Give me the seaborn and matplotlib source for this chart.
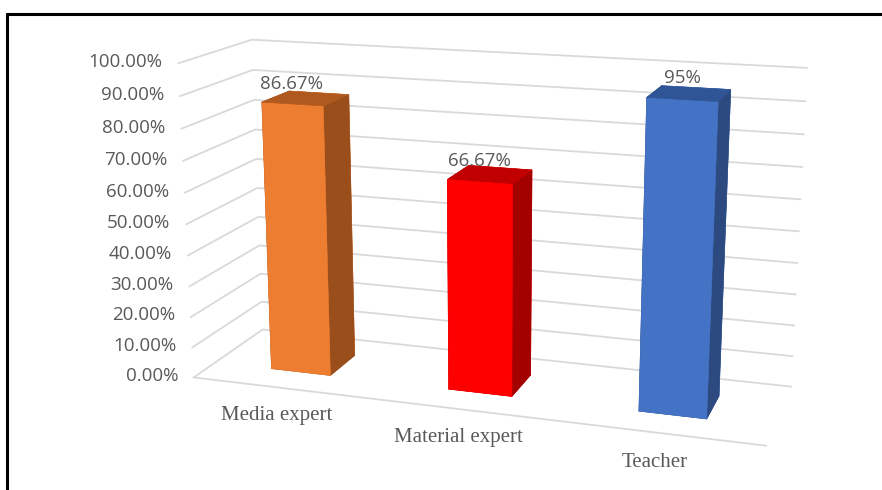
import numpy as np
import matplotlib
matplotlib.use("Agg")
import matplotlib.pyplot as plt
import seaborn as sns
from matplotlib.lines import Line2D

# ---------------- data ----------------
categories = ["Media expert", "Material expert", "Teacher"]
values = [86.67, 66.67, 95.0]
value_labels = ["86.67%", "66.67%", "95%"]
tick_values = [0, 10, 20, 30, 40, 50, 60, 70, 80, 90, 100]
tick_labels = ["0.00%", "10.00%", "20.00%", "30.00%", "40.00%", "50.00%",
               "60.00%", "70.00%", "80.00%", "90.00%", "100.00%"]

front_colors = ["#ED7D31", "#FF0000", "#4472C4"]
side_colors = ["#9A4E1B", "#A30000", "#2C4A80"]
top_colors = ["#B0591F", "#C00000", "#2F5597"]

sns.set_theme(style="white")
plt.rcParams["font.family"] = ["Open Sans", "DejaVu Sans"]

W, H = 882, 490
fig = plt.figure(figsize=(W / 100, H / 100), dpi=100)
fig.patch.set_facecolor("white")

side = 900
cx, cy = 478, 240
ax = fig.add_axes([(cx - side / 2) / W, (H - cy - side / 2) / H, side / W, side / H],
                  projection="3d", computed_zorder=False)
ax.set_proj_type("persp", focal_length=0.34)
ax.view_init(elev=15, azim=-72)
n = len(categories)
ax.set_xlim(0, n)
ax.set_ylim(0, 1)
ax.set_zlim(0, 100)
ax.set_xticks([])
ax.set_yticks([])
ax.set_zticks([])
ax.set_axis_off()
ax.set_box_aspect((3.07, 0.85, 1.7), zoom=0.75)

grid_col = "#D9D9D9"
for z in tick_values:
    ax.plot([0, 0, n], [0, 1, 1], [z, z, z], color=grid_col, lw=1.3, zorder=1)
ax.plot([0, n], [0, 0], [0, 0], color=grid_col, lw=1.3, zorder=1)

bw = 0.34
bd = 0.4
xs = np.arange(n) + 0.5 - bw / 2
ys = np.full(n, 0.5 - bd / 2)
zs = np.zeros(n)
face_cols = []
for f, s, t in zip(front_colors, side_colors, top_colors):
    # order: -z, +z, -y, +y, -x, +x
    face_cols += [t, t, f, f, s, s]
ax.bar3d(xs, ys, zs, bw, bd, values, color=face_cols, edgecolor=face_cols,
         linewidth=0.4, shade=False, zorder=2)

# project 3D anchor points to figure coordinates (after the 3D view is fixed)
fig.canvas.draw()
M = ax.M


def to_fig(x, y, z):
    v = M @ np.array([x, y, z, 1.0])
    X, Y = v[0] / v[3], v[1] / v[3]
    px, py = ax.transData.transform((X, Y))
    return fig.transFigure.inverted().transform((px, py))


txt_col = "#595959"
for z, lab in zip(tick_values, tick_labels):
    fx, fy = to_fig(-0.09, 0, z)
    fig.text(fx, fy, lab, ha="right", va="center", color=txt_col, fontsize=13.5)
for i, (v, lab) in enumerate(zip(values, value_labels)):
    fx, fy = to_fig(i + 0.5, 0.3, v + 3.5)
    fig.text(fx, fy, lab, ha="center", va="bottom", color=txt_col, fontsize=13.5)
for i, cat in enumerate(categories):
    fx, fy = to_fig(i + 0.47, 0, -9.3)
    fig.text(fx, fy, cat, ha="center", va="center", color=txt_col, fontsize=15,
             family=["Liberation Serif", "DejaVu Serif"])

fig.add_artist(Line2D([7 / W, 7 / W], [0, 1 - 14 / H], transform=fig.transFigure,
                      color="black", lw=2.2))
fig.add_artist(Line2D([7 / W, 1], [1 - 14 / H, 1 - 14 / H], transform=fig.transFigure,
                      color="black", lw=2.2))

fig.savefig("out.png", dpi=100)
